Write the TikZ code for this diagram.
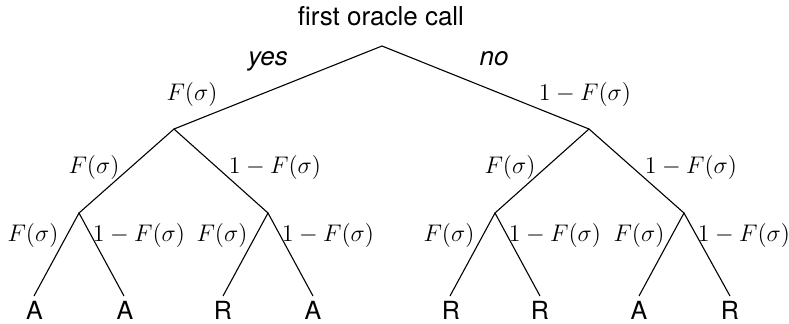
\documentclass[tikz,border=0pt]{standalone}
\usepackage{fontspec}
\setmainfont{TeX Gyre Heros}
\begin{document}
\begin{tikzpicture}[x=0.5pt,y=-0.5pt,
  edge/.style={draw=black,line width=0.55pt},
  prob/.style={inner sep=0pt,font=\fontsize{11.5}{13}\selectfont},
  leaf/.style={inner sep=0pt,anchor=base,font=\fontsize{12.5}{14}\selectfont},
  ttl/.style={inner sep=0pt,anchor=base,font=\fontsize{13}{15}\selectfont},
  ans/.style={inner sep=0pt,anchor=base,font=\fontsize{13}{15}\selectfont\itshape}]
\useasboundingbox (0,0) rectangle (789,323);
% tree points
\coordinate (r) at (382,46);
\coordinate (a) at (174,129);
\coordinate (b) at (589,129);
\coordinate (aa) at (79,213);
\coordinate (ab) at (268,213);
\coordinate (ba) at (495,213);
\coordinate (bb) at (684,213);
\coordinate (l1) at (34,296);
\coordinate (l2) at (124,296);
\coordinate (l3) at (223,296);
\coordinate (l4) at (313,296);
\coordinate (l5) at (450,296);
\coordinate (l6) at (540,296);
\coordinate (l7) at (639,296);
\coordinate (l8) at (730,296);
% edges
\draw[edge] (a) -- (r) -- (b);
\draw[edge] (aa) -- (a) -- (ab);
\draw[edge] (ba) -- (b) -- (bb);
\draw[edge] (l1) -- (aa) -- (l2);
\draw[edge] (l3) -- (ab) -- (l4);
\draw[edge] (l5) -- (ba) -- (l6);
\draw[edge] (l7) -- (bb) -- (l8);
% texts
\node[ttl] (title) at (381,25) {first oracle call};
\node[ans] (yes) at (268,65) {yes};
\node[ans] (no) at (494,65) {no};
\node[prob] (p1) at (192,94) {$F(\sigma)$};
\node[prob] (q1) at (585,94) {$1-F(\sigma)$};
\node[prob] (p2) at (94,167) {$F(\sigma)$};
\node[prob] (q2) at (275,167) {$1-F(\sigma)$};
\node[prob] (p3) at (510,167) {$F(\sigma)$};
\node[prob] (q3) at (691,167) {$1-F(\sigma)$};
\node[prob] (p4) at (33,235) {$F(\sigma)$};
\node[prob] (q4) at (139,235) {$1-F(\sigma)$};
\node[prob] (p5) at (222,235) {$F(\sigma)$};
\node[prob] (q5) at (328,235) {$1-F(\sigma)$};
\node[prob] (p6) at (449,235) {$F(\sigma)$};
\node[prob] (q6) at (555,235) {$1-F(\sigma)$};
\node[prob] (p7) at (639,235) {$F(\sigma)$};
\node[prob] (q7) at (744,235) {$1-F(\sigma)$};
\node[leaf] (o1) at (34.5,319) {A};
\node[leaf] (o2) at (125,319) {A};
\node[leaf] (o3) at (223,319) {R};
\node[leaf] (o4) at (313,319) {A};
\node[leaf] (o5) at (451,319) {R};
\node[leaf] (o6) at (540,319) {R};
\node[leaf] (o7) at (639,319) {A};
\node[leaf] (o8) at (730,319) {R};
\end{tikzpicture}
\end{document}
